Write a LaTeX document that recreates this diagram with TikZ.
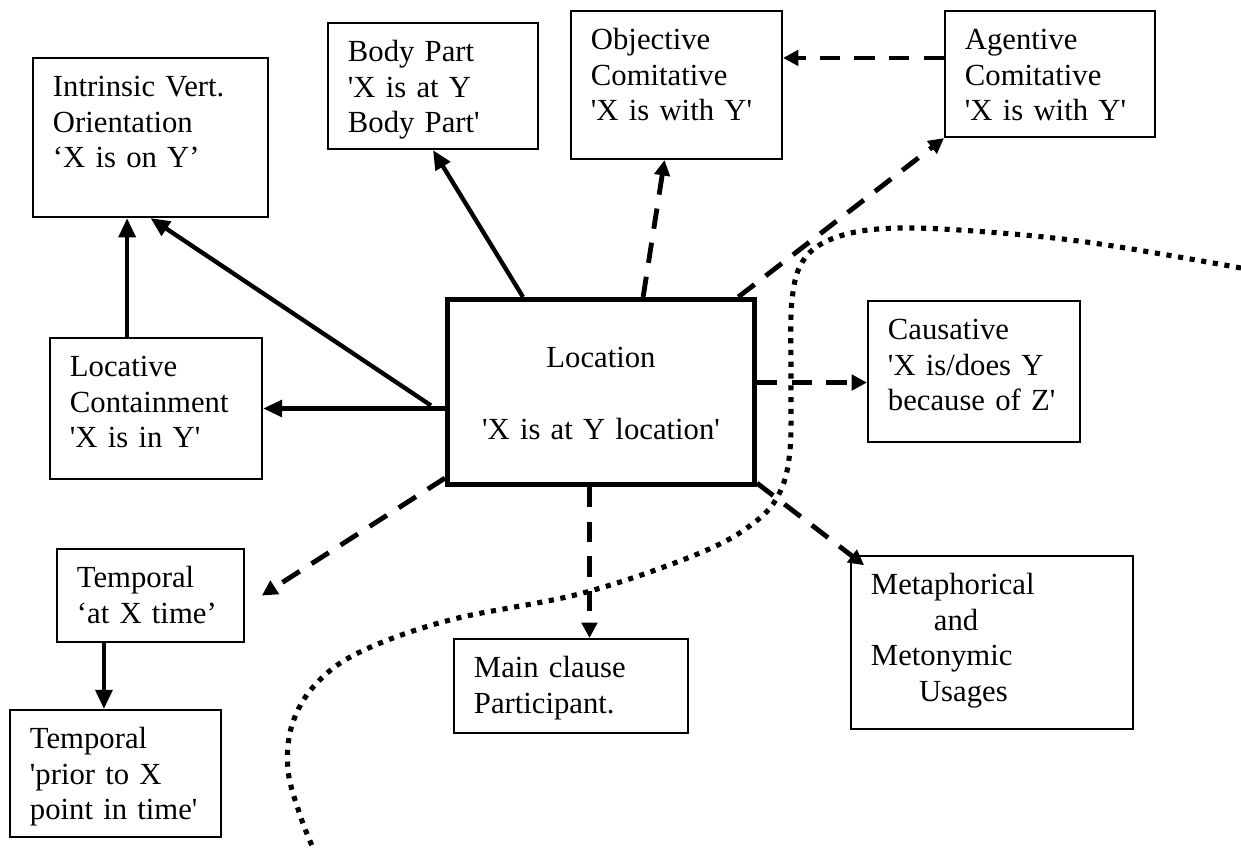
\documentclass[tikz,border=0pt]{standalone}
\usepackage{fontspec}
\setmainfont{Liberation Serif}
\usetikzlibrary{arrows.meta,calc}
\newcommand{\sq}{\textquotesingle}
\tikzset{
  card/.style 2 args={draw=black,line width=0.8pt,anchor=north west,align=left,
    inner xsep=7.8pt,inner ysep=5pt,text height=10pt,text width=#1,text depth=#2,
    font=\fontsize{12}{14}\selectfont},
  maincard/.style={draw=black,line width=2pt,anchor=north west,align=center,
    inner xsep=7.8pt,inner ysep=5pt,text height=21.6pt,text width=104.4pt,
    text depth=40.7pt,font=\fontsize{12}{14}\selectfont},
  solidarr/.style={-{Triangle[length=7.5pt,width=6.5pt]},line width=1.7pt},
  dasharr/.style={-{Triangle[length=6pt,width=6pt]},line width=1.9pt,
    dash pattern=on 8pt off 5.5pt},
  dotcurve/.style={line width=2pt,dash pattern=on 2pt off 2.6pt}
}
\begin{document}
\begin{tikzpicture}[x=0.391pt,y=-0.391pt]
  \path[use as bounding box] (0,0) rectangle (1241,848);
  % boxes
  \node[card={76.3pt}{42.2pt}] (intr) at (32,57)
    {Intrinsic Vert.\\ Orientation\\ ‘X is on Y’};
  \node[card={66.5pt}{29.3pt}] (body) at (327,22)
    {Body Part\\ \sq X is at Y\\ Body Part\sq};
  \node[card={66.9pt}{37.9pt}] (obj) at (570,10)
    {Objective\\ Comitative\\ \sq X is with Y\sq};
  \node[card={66.5pt}{29.3pt}] (agent) at (944,10)
    {Agentive\\ Comitative\\ \sq X is with Y\sq};
  \node[maincard] (loc) at (445,297)
    {Location\\[14pt] \sq X is at Y location\sq};
  \node[card={67.3pt}{35.1pt}] (cont) at (49,337)
    {Locative\\ Containment\\ \sq X is in Y\sq};
  \node[card={67.3pt}{35.1pt}] (caus) at (867,300)
    {Causative\\ \sq X is/does Y\\ because of Z\sq};
  \node[card={57.5pt}{16.4pt}] (tat) at (56,548)
    {Temporal\\ ‘at X time’};
  \node[card={66.9pt}{29.7pt}] (tprior) at (9,709)
    {Temporal\\ \sq prior to X\\ point in time\sq};
  \node[card={75.9pt}{16.8pt}] (main) at (453,638)
    {Main clause\\ Participant.};
  \node[card={94.7pt}{47.6pt}] (meta) at (850,555)
    {Metaphorical\\ \hspace*{24.6pt}and\\ Metonymic\\ \hspace*{18.8pt}Usages};
  % solid links
  \draw[solidarr] (loc.west |- cont.east) -- (cont.east);
  \draw[solidarr] ($(loc.west |- cont.east)+(-14,-3)$) -- (intr.south);
  \draw[solidarr] ([xshift=-11.3pt]cont.north) -- ([xshift=-11.3pt]cont.north |- intr.south);
  \draw[solidarr] ($(loc.north west)!0.25!(loc.north east)$) -- (body.south);
  \draw[solidarr] ([xshift=-18.2pt]tat.south) -- ([xshift=-18.2pt]tat.south |- tprior.north);
  % dashed links
  \draw[dasharr] ($(loc.north west)!0.635!(loc.north east)$) -- ([xshift=-4.7pt]obj.south);
  \draw[dasharr] ($(loc.north west)!0.94!(loc.north east)$) -- (agent.south west);
  \draw[dasharr] ([yshift=6.3pt]agent.west) -- ([yshift=6.3pt]agent.west -| obj.east);
  \draw[dasharr] ([yshift=3.7pt]loc.east) -- ([yshift=3.7pt]loc.east -| caus.west);
  \draw[dasharr] ([yshift=3.5pt]loc.south west) -- ([xshift=6.6pt]tat.east);
  \draw[dasharr] ([xshift=-4.5pt]loc.south) -- ([xshift=-4.5pt]loc.south |- main.north);
  \draw[dasharr] ([yshift=1.5pt]loc.south east) -- ([shift={(5.5pt,-4pt)}]meta.north west);
  % boundary
  \draw[dotcurve] plot[smooth,tension=0.6] coordinates {(1241,268) (1100,244) (1000,233)
    (900,228) (840,236) (805,258) (792,300) (791,380) (790,450) (780,492) (755,522)
    (700,553) (583,593) (450,620) (360,652) (315,685) (292,725) (288,770) (300,815)
    (313,848)};
\end{tikzpicture}
\end{document}
